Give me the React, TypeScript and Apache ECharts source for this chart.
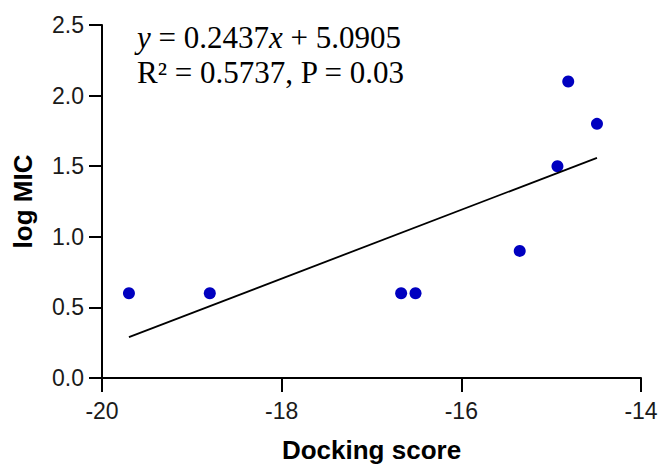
import React, { useEffect, useRef } from "react";
import * as echarts from "echarts";

const dockingScores = [-19.7, -18.8, -16.67, -16.51, -15.35, -14.93, -14.81, -14.49];
const logMIC = [0.6, 0.6, 0.6, 0.6, 0.9, 1.5, 2.1, 1.8];
const slope = 0.2437;
const intercept = 5.0905;
const xTicks = { min: -20, max: -14, interval: 2 };
const yTicks = { min: 0, max: 2.5, interval: 0.5 };
const equationLine = "{i|y} = 0.2437{i|x} + 5.0905";
const statsLine = "R² = 0.5737, P = 0.03";

export default function App() {
  const ref = useRef<HTMLDivElement>(null);
  useEffect(() => {
    if (!ref.current) return;
    const chart = echarts.init(ref.current, undefined, { renderer: "svg" });
    const xMin = Math.min(...dockingScores);
    const xMax = Math.max(...dockingScores);
    const fit = [xMin, xMax].map((x) => [x, slope * x + intercept]);
    const axisColor = "#000";
    const labelFont = "Liberation Sans";
    chart.setOption({
      animation: false,
      backgroundColor: "#fff",
      grid: { left: 102, right: 20, top: 25, bottom: 84, containLabel: false },
      xAxis: {
        type: "value",
        min: xTicks.min,
        max: xTicks.max,
        interval: xTicks.interval,
        name: "Docking score",
        nameLocation: "middle",
        nameGap: 59,
        nameTextStyle: { fontFamily: labelFont, fontWeight: "bold", fontSize: 26, color: "#000" },
        axisLine: { onZero: false, lineStyle: { color: axisColor, width: 2 } },
        axisTick: { show: true, length: 14, inside: false, lineStyle: { color: axisColor, width: 2 } },
        axisLabel: { margin: 21, fontFamily: labelFont, fontSize: 23, color: "#1a1a1a" },
        splitLine: { show: false },
      },
      yAxis: {
        type: "value",
        min: yTicks.min,
        max: yTicks.max,
        interval: yTicks.interval,
        name: "log MIC",
        nameLocation: "middle",
        nameGap: 66,
        nameRotate: 90,
        nameTextStyle: { fontFamily: labelFont, fontWeight: "bold", fontSize: 26, color: "#000" },
        axisLine: { show: true, onZero: false, lineStyle: { color: axisColor, width: 2 } },
        axisTick: { show: true, length: 13, inside: false, lineStyle: { color: axisColor, width: 2 } },
        axisLabel: {
          margin: 18,
          fontFamily: labelFont,
          fontSize: 23,
          color: "#1a1a1a",
          formatter: (v: number) => v.toFixed(1),
        },
        splitLine: { show: false },
      },
      graphic: [
        {
          type: "text",
          left: 137,
          top: 20,
          style: {
            text: equationLine + "\n{n|" + statsLine + "}",
            font: "31px 'Liberation Serif'",
            lineHeight: 35,
            fill: "#000",
            rich: {
              i: { fontStyle: "italic", fontFamily: "Liberation Serif", fontSize: 31, lineHeight: 35 },
              n: { fontFamily: "Liberation Serif", fontSize: 31, lineHeight: 35 },
            },
          },
        },
      ],
      series: [
        {
          type: "line",
          data: fit,
          symbol: "none",
          lineStyle: { color: "#000", width: 1.8 },
          silent: true,
        },
        {
          type: "scatter",
          data: dockingScores.map((x, i) => [x, logMIC[i]]),
          symbolSize: 12,
          itemStyle: { color: "#0000c0", opacity: 1 },
        },
      ],
    });
    return () => chart.dispose();
  }, []);
  return <div ref={ref} style={{ position: "fixed", left: 0, top: 0, width: 661, height: 468 }} />;
}
